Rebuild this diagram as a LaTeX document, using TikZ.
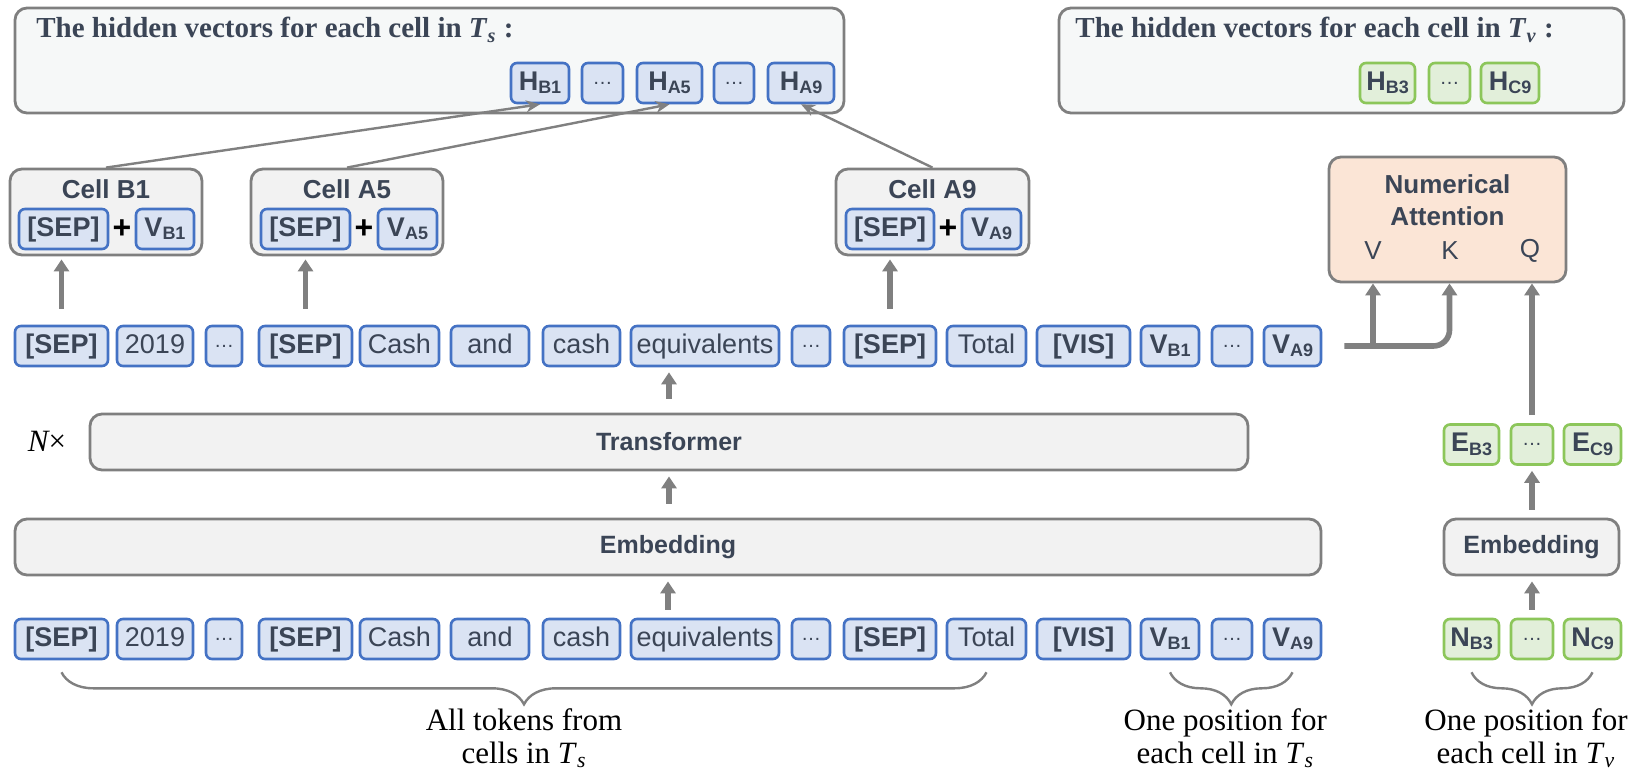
\documentclass[tikz,border=0pt]{standalone}
\usepackage{fontspec}
\setmainfont{Liberation Sans}
\newfontfamily\serifface{Liberation Serif}
\usetikzlibrary{arrows.meta,positioning,calc,decorations.pathreplacing}
\definecolor{ink}{HTML}{3B4556}
\definecolor{tokblue}{HTML}{4472C4}
\definecolor{tokfill}{HTML}{DAE3F3}
\definecolor{tokgreen}{HTML}{8CC65A}
\definecolor{greenfill}{HTML}{E2EFDA}
\definecolor{boxline}{HTML}{7F7F7F}
\definecolor{boxfill}{HTML}{F2F2F2}
\definecolor{panel}{HTML}{F6F8F8}
\definecolor{attn}{HTML}{FBE5D6}
\definecolor{arr}{HTML}{808080}
\newcommand{\dts}{\raisebox{2.9pt}{\fontsize{10}{10}\selectfont …}}
\newcommand{\vsb}[2]{#1\raisebox{-0.25ex}{\fontsize{9}{9}\selectfont #2}}
\newcommand{\Tsub}[1]{\textit{T}\textsubscript{\textit{#1}}}

\begin{document}
\begin{tikzpicture}[x=0.5pt, y=-0.5pt]
  \tikzset{tok/.style={draw=tokblue, fill=tokfill, line width=1.3pt, rounded corners=3pt, minimum height=20pt,
                       inner sep=1pt, text height=9.8pt, text depth=2.8pt, text=ink, font=\fontsize{13.5}{14}\selectfont},
           gtok/.style={tok, draw=tokgreen, fill=greenfill},
           panelbox/.style={draw=boxline, fill=panel, line width=1.4pt, rounded corners=6pt},
           cellbox/.style={panelbox, fill=boxfill},
           lbl/.style={text=ink, font=\bfseries\fontsize{13}{16}\selectfont, align=center, inner sep=0pt},
           ttl/.style={text=ink, font=\serifface\bfseries\fontsize{14.5}{15}\selectfont, inner sep=0pt},
           note/.style={font=\serifface\fontsize{15.5}{16.5}\selectfont, align=center, inner sep=0pt},
           plus/.style={font=\bfseries\fontsize{16}{16}\selectfont, inner sep=0pt},
           fat/.style={draw=arr, line width=2.8pt, -{Triangle[length=6pt, width=7.5pt]}},
           thinarr/.style={draw=arr, line width=1.2pt, -{Stealth[length=7pt, width=6pt]}},
           brc/.style={draw=arr, line width=1.2pt, decorate, decoration={brace, mirror, amplitude=16pt}}}
  \useasboundingbox (0,0) rectangle (1638,782);

  % hidden vectors, T_s
  \node[panelbox, minimum width=414.5pt, minimum height=52.5pt] (hs) at (429.5,60.5) {};
  \node[ttl, anchor=west] (hstitle) at (36,30) {The hidden vectors for each cell in \Tsub{s} :};
  \node[tok, minimum width=29pt] (hb1) at (540,83) {\bfseries\vsb{H}{B1}};
  \node[tok, minimum width=20.5pt] (hd1) at (602.5,83) {\dts};
  \node[tok, minimum width=32.5pt] (ha5) at (669.5,83) {\bfseries\vsb{H}{A5}};
  \node[tok, minimum width=20pt] (hd2) at (734,83) {\dts};
  \node[tok, minimum width=33pt] (ha9) at (801,83) {\bfseries\vsb{H}{A9}};

  % hidden vectors, T_v
  \node[panelbox, minimum width=282.5pt, minimum height=52.5pt] (hv) at (1341.5,60.5) {};
  \node[ttl, anchor=west] (hvtitle) at (1075,30) {The hidden vectors for each cell in \Tsub{v} :};
  \node[gtok, minimum width=27.5pt] (hb3) at (1387.5,83) {\bfseries\vsb{H}{B3}};
  \node[gtok, minimum width=20.5pt] (hd3) at (1449.5,83) {\dts};
  \node[gtok, minimum width=29pt] (hc9) at (1510,83) {\bfseries\vsb{H}{C9}};

  % cells
  \node[cellbox, minimum width=96pt, minimum height=43pt] (cb1) at (106,212) {};
  \node[lbl] (cb1t) at (106,189) {Cell B1};
  \node[tok, minimum width=44.5pt] (cb1s) at (63.5,229) {\bfseries[SEP]};
  \node[plus] (cb1p) at (122,229) {+};
  \node[tok, minimum width=29pt] (cb1v) at (165,229) {\bfseries\vsb{V}{B1}};

  \node[cellbox, minimum width=96pt, minimum height=43pt] (ca5) at (347,212) {};
  \node[lbl] (ca5t) at (347,189) {Cell A5};
  \node[tok, minimum width=44.5pt] (ca5s) at (305.5,229) {\bfseries[SEP]};
  \node[plus] (ca5p) at (364,229) {+};
  \node[tok, minimum width=29.5pt] (ca5v) at (407.5,229) {\bfseries\vsb{V}{A5}};

  \node[cellbox, minimum width=96.5pt, minimum height=43pt] (ca9) at (932.5,212) {};
  \node[lbl] (ca9t) at (932.5,189) {Cell A9};
  \node[tok, minimum width=44pt] (ca9s) at (890,229) {\bfseries[SEP]};
  \node[plus] (ca9p) at (948,229) {+};
  \node[tok, minimum width=29.5pt] (ca9v) at (991.5,229) {\bfseries\vsb{V}{A9}};

  % numerical attention
  \node[panelbox, fill=attn, minimum width=118.5pt, minimum height=62.5pt] (na) at (1447.5,219.5) {};
  \node[lbl] (natxt) at (1447.5,200) {Numerical\\Attention};
  \node[lbl, font=\fontsize{13}{14}\selectfont] (nav) at (1373,251) {V};
  \node[lbl, font=\fontsize{13}{14}\selectfont] (nak) at (1450,251) {K};
  \node[lbl, font=\fontsize{13}{14}\selectfont] (naq) at (1530,251) {Q};

  % token rows (output / input)
  \foreach \nm/\l/\r/\txt in {1/15/108/{\bfseries[SEP]}, 2/117/193/2019, 3/206/242/\dts, 4/259/352/{\bfseries[SEP]},
      5/360/439/Cash, 6/451/529/and, 7/543/620/cash, 8/631/779/equivalents, 9/792/830/\dts,
      10/844/936/{\bfseries[SEP]}, 11/947/1026/Total, 12/1037/1130/{\bfseries[VIS]},
      13/1141/1199/{\bfseries\vsb{V}{B1}}, 14/1212/1252/\dts, 15/1264/1321/{\bfseries\vsb{V}{A9}}}
  {
    \node[tok, minimum width={(\r-\l)*0.5pt}] (t\nm) at ({(\l+\r)/2},346) {\txt};
    \node[tok, minimum width={(\r-\l)*0.5pt}] (b\nm) at ({(\l+\r)/2},639) {\txt};
  }

  % encoder stack
  \node[note] (nx) at (47,441) {\itshape N\upshape ×};
  \node[panelbox, fill=boxfill, minimum width=579pt, minimum height=28pt, text=ink,
        font=\bfseries\fontsize{12.5}{13}\selectfont] (tr) at (669,442) {Transformer};
  \node[panelbox, fill=boxfill, minimum width=653pt, minimum height=28pt, text=ink,
        font=\bfseries\fontsize{12.5}{13}\selectfont] (emb) at (668,547) {Embedding};

  % numerical branch
  \node[panelbox, fill=boxfill, minimum width=87.5pt, minimum height=28pt, text=ink,
        font=\bfseries\fontsize{12.5}{13}\selectfont] (emb2) at (1531.5,547) {Embedding};
  \node[gtok, minimum width=27.5pt] (eb3) at (1471.5,444.5) {\bfseries\vsb{E}{B3}};
  \node[gtok, minimum width=21pt] (ed) at (1532,444.5) {\dts};
  \node[gtok, minimum width=28.5pt] (ec9) at (1592.5,444.5) {\bfseries\vsb{E}{C9}};
  \node[gtok, minimum width=27.5pt] (nb3) at (1471.5,639) {\bfseries\vsb{N}{B3}};
  \node[gtok, minimum width=21pt] (nd) at (1532,639) {\dts};
  \node[gtok, minimum width=28.5pt] (nc9) at (1592.5,639) {\bfseries\vsb{N}{C9}};

  % connectors
  \draw[thinarr] (cb1.north) -- (hb1.south);
  \draw[thinarr] (ca5.north) -- (ha5.south);
  \draw[thinarr] (ca9.north) -- (ha9.south);
  \foreach \t/\c in {t1/cb1, t4/ca5, t10/ca9}
    \draw[fat, shorten <=8pt, shorten >=1.5pt] (\t.north) -- (\t.north |- \c.south);
  \draw[fat, shorten <=7pt, shorten >=2.5pt] (tr.north) -- (tr.north |- t8.south);
  \draw[fat, shorten <=7pt, shorten >=2.5pt] (emb.north -| tr.north) -- (tr.south);
  \draw[fat, shorten <=4pt, shorten >=2.5pt] (b8.north -| emb.south) -- (emb.south);
  \draw[fat, shorten <=4pt, shorten >=2.5pt] (nd.north) -- (emb2.south -| nd.north);
  \draw[fat, shorten <=4pt, shorten >=2.5pt] (emb2.north -| ed.south) -- (ed.south);
  \draw[fat, shorten <=4pt] (ed.north) -- (ed.north |- na.south);
  \coordinate (kin) at ([xshift=1pt]na.south);
  \coordinate (vin) at (nav |- na.south);
  \draw[fat, rounded corners=8pt] ([xshift=11pt]t15.east) -| (kin);
  \draw[fat] (vin |- t15.east) -- (vin);

  % braces
  \draw[brc] ([yshift=-6pt]b1.south) -- ([yshift=-6pt]b11.south);
  \draw[brc] ([yshift=-6pt]b13.south) -- ([yshift=-6pt]b15.south);
  \draw[brc] ([yshift=-6pt]nb3.south) -- ([yshift=-6pt]nc9.south);
  \node[note, anchor=north] (lblts) at ($(b1.south)!0.5!(b11.south)+(0,-24pt)$) {All tokens from\\cells in \Tsub{s}};
  \node[note, anchor=north] (lblvs) at ($(b13.south)!0.5!(b15.south)+(-3pt,-24pt)$) {One position for\\each cell in \Tsub{s}};
  \node[note, anchor=north] (lblnv) at ($(nb3.south)!0.5!(nc9.south)+(-3pt,-24pt)$) {One position for\\each cell in \Tsub{v}};
\end{tikzpicture}
\end{document}
